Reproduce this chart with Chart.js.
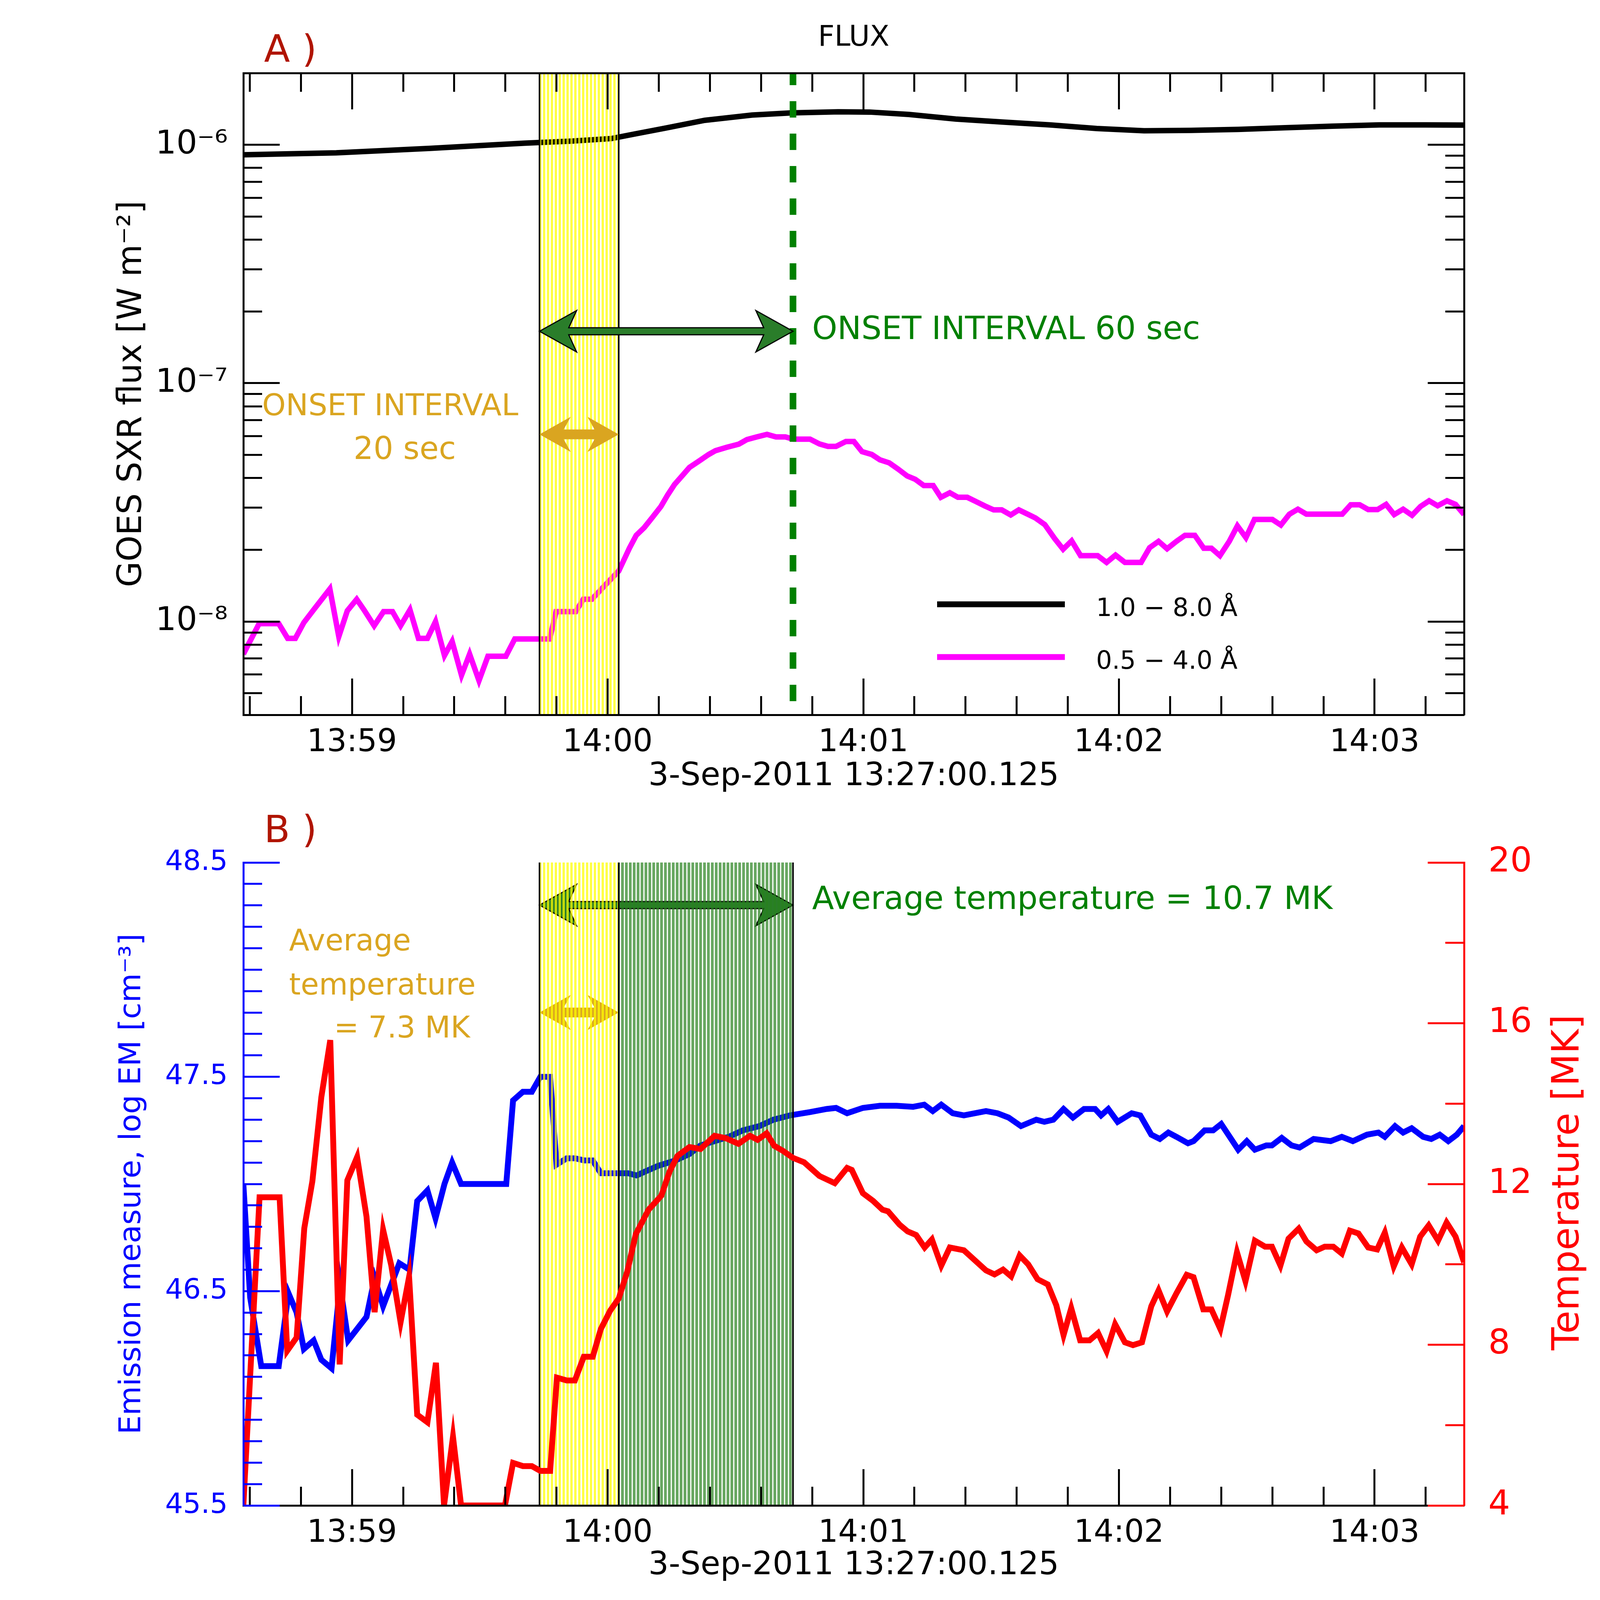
<!DOCTYPE html>
<html>
<head>
<meta charset="utf-8">
<script src="https://cdn.jsdelivr.net/npm/chart.js@4.4.0/dist/chart.umd.min.js"></script>
<style>
  html, body { margin: 0; padding: 0; background: #fff; }
  #wrap { position: relative; width: 4167px; height: 4167px; background: #fff; }
  canvas { position: absolute; left: 0; }
  #fluxChart { top: 0; width: 4167px; height: 2080px; }
  #emChart { top: 2080px; width: 4167px; height: 2087px; }
</style>
</head>
<body>
<div id="wrap">
  <canvas id="fluxChart" width="4167" height="2080"></canvas>
  <canvas id="emChart" width="4167" height="2087"></canvas>
</div>
<script>
// time axis: seconds from 14:00:00 UT
const timeMin = -85.5, timeMax = 201;
const timeMajorTicks = [-60, 0, 60, 120, 180];
const timeTickLabels = ['13:59', '14:00', '14:01', '14:02', '14:03'];
const timeMinorTicks = [-84, -72, -48, -36, -24, -12, 12, 24, 36, 48, 72, 84, 96, 108, 132, 144, 156, 168, 192];
const timeAxisTitle = '3-Sep-2011 13:27:00.125';

const fluxMin = 4.06e-9, fluxMax = 2.0e-6;
const fluxMajorTicks = [1e-8, 1e-7, 1e-6];
const fluxTickLabels = ['10⁻⁸', '10⁻⁷', '10⁻⁶'];
const fluxMinorTicks = [5e-9, 6e-9, 7e-9, 8e-9, 9e-9, 2e-8, 3e-8, 4e-8, 5e-8, 6e-8, 7e-8, 8e-8, 9e-8,
  2e-7, 3e-7, 4e-7, 5e-7, 6e-7, 7e-7, 8e-7, 9e-7, 2e-6];

const emMajorTicks = [45.5, 46.5, 47.5, 48.5];
const emTickLabels = ['45.5', '46.5', '47.5', '48.5'];
const emMinorTicks = [45.6, 45.7, 45.8, 45.9, 46.0, 46.1, 46.2, 46.3, 46.4, 46.6, 46.7, 46.8, 46.9,
  47.0, 47.1, 47.2, 47.3, 47.4, 47.6, 47.7, 47.8, 47.9, 48.0, 48.1, 48.2, 48.3, 48.4];
const tempMajorTicks = [4, 8, 12, 16, 20];
const tempTickLabels = ['4', '8', '12', '16', '20'];
const tempMinorTicks = [6, 10, 14, 18];

// onset intervals (s from 14:00:00)
const onsetStart = -16, onset20End = 2.6, onset60End = 43.5;

// GOES 1.0-8.0 A
const longTime = [-85.7, -74.7, -63.7, -52.6, -41.6, -30.5, -19.5, -8.5, 0.8, 6.3, 13.6, 22.8, 33.9, 43.1,
  54.1, 61.5, 70.7, 81.7, 92.8, 103.8, 114.8, 125.9, 136.9, 148.0, 159.0, 170.1, 181.1, 192.1, 201.0];
const longFlux = [9.08e-7, 9.17e-7, 9.25e-7, 9.46e-7, 9.66e-7, 9.91e-7, 1.016e-6, 1.036e-6, 1.062e-6, 1.110e-6,
  1.175e-6, 1.267e-6, 1.333e-6, 1.361e-6, 1.375e-6, 1.372e-6, 1.341e-6, 1.283e-6, 1.246e-6, 1.212e-6,
  1.170e-6, 1.145e-6, 1.150e-6, 1.160e-6, 1.179e-6, 1.197e-6, 1.212e-6, 1.212e-6, 1.21e-6];

// GOES 0.5-4.0 A
const shortTime = [-85.5, -81.8, -77.2, -75.1, -73.3, -71.3, -69.0, -65.2, -63.1, -61.1, -58.9, -57.2, -54.8,
  -52.6, -50.5, -48.6, -46.4, -44.4, -42.3, -40.4, -38.3, -36.5, -34.3, -32.4, -30.2, -28.1, -23.9, -21.8,
  -13.6, -12.1, -7.5, -5.7, -3.7, -1.1, 2.6, 3.8, 5.1, 6.7, 8.6, 10.6, 12.5, 14.1, 15.7, 17.6, 19.2, 21.5,
  23.7, 25.3, 27.9, 30.8, 32.7, 35.0, 37.4, 39.5, 41.7, 43.6, 47.5, 49.7, 51.7, 53.6, 55.9, 57.8, 59.7,
  62.0, 63.9, 66.1, 68.1, 70.3, 72.2, 74.2, 76.4, 78.2, 80.3, 82.2, 84.4, 86.4, 88.6, 90.6, 92.5, 94.6,
  96.5, 98.6, 100.4, 102.6, 104.9, 106.9, 108.9, 111.0, 115.0, 117.1, 119.2, 121.4, 125.2, 127.2, 129.3,
  131.3, 133.5, 135.5, 137.8, 139.9, 141.7, 143.7, 145.9, 147.8, 149.8, 151.8, 156.0, 158.0, 160.0, 162.0,
  164.0, 172.4, 174.4, 176.5, 178.5, 180.7, 182.7, 184.6, 186.7, 188.8, 190.8, 192.8, 194.8, 197.0, 199.0, 201.0];
const shortFlux = [7.3e-9, 9.8e-9, 9.8e-9, 8.5e-9, 8.5e-9, 9.9e-9, 1.12e-8, 1.37e-8, 8.65e-9, 1.11e-8, 1.24e-8,
  1.12e-8, 9.6e-9, 1.10e-8, 1.10e-8, 9.6e-9, 1.12e-8, 8.5e-9, 8.5e-9, 1.0e-8, 7.2e-9, 8.25e-9, 5.95e-9,
  7.3e-9, 5.65e-9, 7.15e-9, 7.15e-9, 8.45e-9, 8.45e-9, 1.10e-8, 1.10e-8, 1.24e-8, 1.24e-8, 1.39e-8,
  1.63e-8, 1.81e-8, 2.03e-8, 2.30e-8, 2.48e-8, 2.75e-8, 3.04e-8, 3.40e-8, 3.76e-8, 4.11e-8, 4.43e-8,
  4.72e-8, 5.02e-8, 5.21e-8, 5.38e-8, 5.55e-8, 5.80e-8, 5.95e-8, 6.10e-8, 5.95e-8, 5.95e-8, 5.82e-8,
  5.82e-8, 5.56e-8, 5.43e-8, 5.43e-8, 5.69e-8, 5.69e-8, 5.16e-8, 5.02e-8, 4.77e-8, 4.63e-8, 4.37e-8,
  4.08e-8, 3.95e-8, 3.72e-8, 3.72e-8, 3.32e-8, 3.47e-8, 3.32e-8, 3.32e-8, 3.19e-8, 3.05e-8, 2.94e-8,
  2.94e-8, 2.80e-8, 2.94e-8, 2.82e-8, 2.72e-8, 2.55e-8, 2.23e-8, 2.01e-8, 2.18e-8, 1.89e-8, 1.89e-8,
  1.77e-8, 1.90e-8, 1.77e-8, 1.77e-8, 2.04e-8, 2.17e-8, 2.02e-8, 2.17e-8, 2.30e-8, 2.30e-8, 2.03e-8,
  2.03e-8, 1.89e-8, 2.17e-8, 2.52e-8, 2.25e-8, 2.68e-8, 2.68e-8, 2.54e-8, 2.82e-8, 2.96e-8, 2.82e-8,
  2.82e-8, 3.09e-8, 3.09e-8, 2.95e-8, 2.95e-8, 3.10e-8, 2.81e-8, 2.96e-8, 2.79e-8, 3.04e-8, 3.21e-8,
  3.06e-8, 3.21e-8, 3.10e-8, 2.81e-8];

// emission measure, log EM [cm^-3]
const emTime = [-85.5, -83.9, -81.3, -77.2, -74.9, -73.0, -71.3, -69.0, -67.2, -64.8, -62.8, -60.9, -56.6,
  -54.7, -52.7, -48.9, -46.5, -44.7, -42.3, -40.4, -38.3, -36.5, -34.4, -23.8, -22.2, -19.9, -17.8, -15.8,
  -13.5, -12.0, -9.6, -7.7, -5.5, -3.5, -1.6, 2.3, 4.8, 6.8, 9.0, 11.9, 15.9, 19.2, 21.8, 25.1, 28.4, 31.7,
  35.6, 38.9, 42.8, 47.4, 51.4, 53.6, 56.2, 59.9, 63.9, 67.8, 71.7, 74.3, 76.3, 78.3, 81.0, 83.6, 88.8,
  91.5, 94.1, 97.0, 100.6, 102.5, 104.6, 107.0, 109.2, 111.8, 114.4, 115.8, 117.5, 119.7, 123.0, 125.0,
  127.6, 129.6, 131.6, 133.5, 136.2, 137.5, 140.1, 142.1, 144.0, 148.0, 150.0, 151.9, 154.6, 155.9, 158.2,
  160.5, 162.4, 165.7, 169.7, 172.3, 174.9, 178.2, 180.9, 182.4, 184.8, 186.7, 188.7, 191.4, 193.3, 195.3,
  197.3, 199.3, 201.0];
const emValue = [47.0, 46.47, 46.15, 46.15, 46.49, 46.40, 46.23, 46.27, 46.18, 46.14, 46.53, 46.27, 46.38,
  46.56, 46.43, 46.63, 46.60, 46.92, 46.97, 46.84, 47.00, 47.10, 47.00, 47.00, 47.39, 47.43, 47.43, 47.50,
  47.50, 47.09, 47.12, 47.12, 47.11, 47.11, 47.05, 47.05, 47.05, 47.04, 47.06, 47.085, 47.11, 47.14, 47.18,
  47.20, 47.22, 47.25, 47.27, 47.30, 47.32, 47.335, 47.35, 47.355, 47.33, 47.355, 47.365, 47.365, 47.36,
  47.37, 47.34, 47.37, 47.33, 47.32, 47.34, 47.33, 47.31, 47.27, 47.30, 47.29, 47.30, 47.35, 47.31, 47.35,
  47.35, 47.32, 47.35, 47.29, 47.33, 47.32, 47.23, 47.21, 47.24, 47.22, 47.19, 47.20, 47.25, 47.25, 47.28,
  47.16, 47.20, 47.16, 47.18, 47.18, 47.215, 47.18, 47.17, 47.21, 47.20, 47.22, 47.20, 47.23, 47.24, 47.22,
  47.27, 47.24, 47.26, 47.22, 47.21, 47.23, 47.20, 47.23, 47.27];

// temperature [MK]
const tempTime = [-85.5, -81.7, -77.0, -75.2, -73.0, -71.2, -69.3, -67.2, -65.1, -62.9, -61.1, -58.8, -56.6,
  -54.7, -52.7, -50.8, -48.6, -46.6, -44.7, -42.3, -40.3, -38.4, -36.3, -34.4, -24.1, -22.2, -19.9, -17.8,
  -15.8, -13.5, -11.9, -9.6, -7.7, -5.6, -3.5, -1.6, 0.6, 2.6, 4.6, 6.6, 9.6, 12.6, 14.5, 16.4, 19.2, 21.8,
  25.1, 27.7, 30.7, 33.4, 35.2, 37.3, 39.1, 41.2, 43.5, 46.1, 49.7, 53.3, 56.2, 57.3, 59.9, 62.3, 64.5, 65.8,
  68.5, 70.4, 72.4, 74.4, 76.1, 78.3, 80.3, 83.6, 86.2, 88.8, 90.8, 92.8, 94.7, 96.7, 98.7, 100.9, 103.3,
  105.3, 107.0, 108.8, 110.9, 113.1, 115.1, 117.1, 119.1, 121.4, 123.3, 125.4, 127.6, 129.3, 131.3, 133.5,
  135.9, 137.5, 139.8, 141.7, 143.8, 145.6, 147.7, 149.7, 151.9, 154.3, 155.9, 157.9, 159.8, 162.2, 164.0,
  166.4, 168.3, 170.3, 172.3, 174.2, 176.2, 178.5, 180.6, 182.4, 184.5, 186.4, 188.7, 190.7, 192.7, 194.9,
  196.9, 199.0, 201.0];
const tempValue = [4.0, 11.67, 11.67, 7.85, 8.18, 10.90, 12.07, 14.16, 15.58, 7.51, 12.09, 12.67, 11.19, 8.81,
  10.86, 9.98, 8.56, 9.69, 6.26, 6.07, 7.55, 4.0, 5.71, 4.0, 4.0, 5.06, 4.98, 4.98, 4.86, 4.86, 7.18, 7.11,
  7.11, 7.70, 7.70, 8.39, 8.85, 9.15, 9.82, 10.75, 11.36, 11.71, 12.30, 12.70, 12.92, 12.87, 13.20, 13.14,
  13.00, 13.20, 13.10, 13.26, 12.95, 12.82, 12.65, 12.54, 12.20, 12.02, 12.40, 12.35, 11.77, 11.58, 11.36,
  11.32, 10.99, 10.82, 10.73, 10.42, 10.62, 9.97, 10.42, 10.35, 10.10, 9.85, 9.75, 9.87, 9.70, 10.22, 10.00,
  9.63, 9.50, 8.98, 8.24, 8.91, 8.11, 8.11, 8.29, 7.84, 8.51, 8.06, 7.99, 8.06, 8.96, 9.35, 8.83, 9.28, 9.74,
  9.68, 8.88, 8.88, 8.39, 9.23, 10.30, 9.58, 10.59, 10.44, 10.44, 9.97, 10.64, 10.89, 10.57, 10.35, 10.44,
  10.44, 10.27, 10.84, 10.77, 10.42, 10.37, 10.79, 9.95, 10.42, 10.00, 10.69, 10.97, 10.59, 11.04, 10.69, 10.05];

const FONT = 'DejaVu Sans';
const GOLD = '#daa520';
const GREEN = '#008000';
const PANEL_RED = '#b01400';

const pairs = (xs, ys) => xs.map((x, i) => ({ x, y: ys[i] }));

const isHoriz = pos => pos === 'top' || pos === 'bottom';

// axis that carries the labels, the title and the frame line
function labelAxis(o) {
  const ax = {
    type: o.type || 'linear',
    position: o.position,
    min: o.min,
    max: o.max,
    bounds: 'data',
    weight: 1,
    afterBuildTicks: s => { s.ticks = o.values.map(v => ({ value: v })); },
    afterFit: s => { if (isHoriz(o.position)) s.height = o.size; else s.width = o.size; },
    grid: { display: false, drawTicks: false },
    border: { display: true, color: o.color, width: 5, z: 1 },
    ticks: { display: false, z: 1 },
    title: { display: false }
  };
  if (o.labels) {
    ax.ticks = {
      display: true, autoSkip: false, maxRotation: 0, minRotation: 0, padding: o.tickPad, z: 1,
      color: o.color, font: { family: FONT, size: o.tickSize },
      callback: (v, i) => o.labels[i]
    };
  }
  if (o.title) {
    ax.title = {
      display: true, text: o.title, color: o.color, font: { family: FONT, size: o.titleSize },
      padding: { top: o.titlePad, bottom: o.titlePad }
    };
  }
  return ax;
}

// zero-size axis that only draws tick marks pointing into the plot (IDL style)
function tickAxis(o) {
  return {
    type: o.type || 'linear',
    position: o.position,
    min: o.min,
    max: o.max,
    bounds: 'data',
    weight: 0,
    afterBuildTicks: s => { s.ticks = o.values.map(v => ({ value: v })); },
    afterFit: s => { if (isHoriz(o.position)) s.height = 0; else s.width = 0; },
    grid: { display: true, drawOnChartArea: false, drawTicks: true, tickLength: -o.len, color: o.color, lineWidth: 5, z: 1 },
    border: { display: false },
    ticks: { display: false },
    title: { display: false }
  };
}

function stripes(color, on, period) {
  const c = document.createElement('canvas');
  c.width = period; c.height = 4;
  const g = c.getContext('2d');
  g.fillStyle = color;
  g.fillRect(0, 0, on, 4);
  return c;
}
const yellowStripes = stripes('rgba(255,255,0,0.72)', 6, 10);
const greenStripes = stripes('rgba(40,130,30,0.7)', 7, 10);

function shadeBand(ctx, area, x0, x1, tile) {
  ctx.fillStyle = ctx.createPattern(tile, 'repeat');
  ctx.fillRect(x0, area.top, x1 - x0, area.bottom - area.top);
}

function edge(ctx, area, x) {
  ctx.beginPath();
  ctx.strokeStyle = '#000';
  ctx.lineWidth = 4;
  ctx.moveTo(x, area.top);
  ctx.lineTo(x, area.bottom);
  ctx.stroke();
}

function drawArrow(ctx, x1, x2, y, a) {
  const { hl, hh, sh, n } = a;
  ctx.beginPath();
  ctx.moveTo(x1, y);
  ctx.lineTo(x1 + hl, y - hh);
  ctx.lineTo(x1 + hl - n, y - sh);
  ctx.lineTo(x2 - hl + n, y - sh);
  ctx.lineTo(x2 - hl, y - hh);
  ctx.lineTo(x2, y);
  ctx.lineTo(x2 - hl, y + hh);
  ctx.lineTo(x2 - hl + n, y + sh);
  ctx.lineTo(x1 + hl - n, y + sh);
  ctx.lineTo(x1 + hl, y + hh);
  ctx.closePath();
  ctx.fillStyle = a.fill;
  ctx.fill();
  if (a.stroke) {
    ctx.lineWidth = a.strokeWidth;
    ctx.strokeStyle = a.stroke;
    ctx.stroke();
  }
}
const goldArrow = { hl: 80, hh: 45, sh: 12.5, n: 18, fill: GOLD };
const greenArrow = { hl: 95, hh: 53, sh: 9, n: 20, fill: '#2a7d2a', stroke: '#000', strokeWidth: 3 };

function label(ctx, str, x, y, size, color, align) {
  ctx.font = size + 'px "' + FONT + '"';
  ctx.fillStyle = color;
  ctx.textAlign = align || 'left';
  ctx.textBaseline = 'alphabetic';
  ctx.fillText(str, x, y);
}

const fluxDecor = {
  id: 'fluxDecor',
  afterDatasetsDraw(chart) {
    const { ctx, chartArea: area, scales } = chart;
    const px = t => scales.x.getPixelForValue(t);
    const xa = px(onsetStart), xb = px(onset20End), xc = px(onset60End);
    ctx.save();
    shadeBand(ctx, area, xa, xb, yellowStripes);
    edge(ctx, area, xa);
    edge(ctx, area, xb);

    ctx.beginPath();
    ctx.setLineDash([42, 41]);
    ctx.lineDashOffset = 11;
    ctx.strokeStyle = GREEN;
    ctx.lineWidth = 17;
    ctx.moveTo(xc, area.top);
    ctx.lineTo(xc, area.bottom);
    ctx.stroke();
    ctx.setLineDash([]);

    drawArrow(ctx, xa, xc, 848, greenArrow);
    drawArrow(ctx, xa, xb, 1112, goldArrow);

    label(ctx, 'ONSET INTERVAL 60 sec', xc + 49, 868, 82, GREEN);
    label(ctx, 'ONSET INTERVAL', 671, 1063, 77, GOLD);
    label(ctx, '20 sec', 905, 1175, 80, GOLD);
    label(ctx, 'A )', 676, 158, 97, PANEL_RED);
    label(ctx, 'FLUX', (area.left + area.right) / 2, 117, 73, '#000', 'center');

    chart.data.datasets.forEach((ds, i) => {
      const ly = 1547 + i * 135;
      ctx.beginPath();
      ctx.strokeStyle = ds.borderColor;
      ctx.lineWidth = 15;
      ctx.moveTo(2399, ly);
      ctx.lineTo(2726, ly);
      ctx.stroke();
      label(ctx, ds.label, 2806, ly + 30, 64, '#000');
    });
    ctx.restore();
  }
};

const emDecor = {
  id: 'emDecor',
  beforeDatasetDraw(chart, args) {
    // bands go over the EM curve but under the temperature curve
    if (chart.data.datasets[args.index].yAxisID !== 'yT') return;
    const { ctx, chartArea: area, scales } = chart;
    const px = t => scales.x.getPixelForValue(t);
    const xa = px(onsetStart), xb = px(onset20End), xc = px(onset60End);
    ctx.save();
    drawArrow(ctx, xa, xc, 237, greenArrow);
    drawArrow(ctx, xa, xb, 512, goldArrow);
    shadeBand(ctx, area, xa, xb, yellowStripes);
    shadeBand(ctx, area, xb, xc, greenStripes);
    edge(ctx, area, xa);
    edge(ctx, area, xb);
    edge(ctx, area, xc);
    ctx.restore();
  },
  afterDatasetsDraw(chart) {
    const { ctx, scales } = chart;
    const xc = scales.x.getPixelForValue(onset60End);
    ctx.save();
    label(ctx, 'B )', 676, 76, 97, PANEL_RED);
    label(ctx, 'Average temperature = 10.7 MK', xc + 49, 247, 82, GREEN);
    label(ctx, 'Average', 740, 353, 76, GOLD);
    label(ctx, 'temperature', 740, 466, 76, GOLD);
    label(ctx, '= 7.3 MK', 855, 576, 76, GOLD);
    ctx.translate(4016, 947);
    ctx.rotate(-Math.PI / 2);
    ctx.font = '96px "' + FONT + '"';
    ctx.fillStyle = '#ff0000';
    ctx.textAlign = 'center';
    ctx.textBaseline = 'middle';
    ctx.fillText('Temperature [MK]', 0, 0);
    ctx.restore();
  }
};

const baseOptions = {
  responsive: false,
  animation: false,
  devicePixelRatio: 1,
  elements: { point: { radius: 0 }, line: { tension: 0 } },
  plugins: { legend: { display: false }, tooltip: { enabled: false } }
};

const T = { min: timeMin, max: timeMax };
const F = { type: 'logarithmic', min: fluxMin, max: fluxMax };
const EM = { min: 45.5, max: 48.5 };
const TMP = { min: 4, max: 20 };

new Chart(document.getElementById('fluxChart'), {
  type: 'line',
  data: {
    datasets: [
      { label: '1.0 − 8.0 Å', data: pairs(longTime, longFlux), borderColor: '#000000', borderWidth: 14 },
      { label: '0.5 − 4.0 Å', data: pairs(shortTime, shortFlux), borderColor: '#ff00ff', borderWidth: 14 }
    ]
  },
  options: Object.assign({}, baseOptions, {
    layout: { padding: 0 },
    scales: {
      x: labelAxis({ ...T, position: 'bottom', values: timeMajorTicks, labels: timeTickLabels, color: '#000',
        size: 250, tickSize: 80, tickPad: 24, title: timeAxisTitle, titleSize: 82, titlePad: 42 }),
      xMajor: tickAxis({ ...T, position: 'bottom', values: timeMajorTicks, len: 93, color: '#000' }),
      xMinor: tickAxis({ ...T, position: 'bottom', values: timeMinorTicks, len: 48, color: '#000' }),
      xTop: labelAxis({ ...T, position: 'top', values: timeMajorTicks, color: '#000', size: 187 }),
      xTopMajor: tickAxis({ ...T, position: 'top', values: timeMajorTicks, len: 93, color: '#000' }),
      xTopMinor: tickAxis({ ...T, position: 'top', values: timeMinorTicks, len: 48, color: '#000' }),
      y: labelAxis({ ...F, position: 'left', values: fluxMajorTicks, labels: fluxTickLabels, color: '#000',
        size: 623, tickSize: 84, tickPad: 40, title: 'GOES SXR flux [W m⁻²]', titleSize: 85, titlePad: 288 }),
      yMajor: tickAxis({ ...F, position: 'left', values: fluxMajorTicks, len: 93, color: '#000' }),
      yMinor: tickAxis({ ...F, position: 'left', values: fluxMinorTicks, len: 48, color: '#000' }),
      yRight: labelAxis({ ...F, position: 'right', values: fluxMajorTicks, color: '#000', size: 419 }),
      yRightMajor: tickAxis({ ...F, position: 'right', values: fluxMajorTicks, len: 93, color: '#000' }),
      yRightMinor: tickAxis({ ...F, position: 'right', values: fluxMinorTicks, len: 48, color: '#000' })
    }
  }),
  plugins: [fluxDecor]
});

new Chart(document.getElementById('emChart'), {
  type: 'line',
  data: {
    datasets: [
      { label: 'log EM', data: pairs(emTime, emValue), borderColor: '#0000ff', borderWidth: 15, yAxisID: 'y', order: 1 },
      { label: 'Temperature', data: pairs(tempTime, tempValue), borderColor: '#ff0000', borderWidth: 15, yAxisID: 'yT', order: 0 }
    ]
  },
  options: Object.assign({}, baseOptions, {
    layout: { padding: { top: 128 } },
    scales: {
      x: labelAxis({ ...T, position: 'bottom', values: timeMajorTicks, labels: timeTickLabels, color: '#000',
        size: 313, tickSize: 80, tickPad: 24, title: timeAxisTitle, titleSize: 82, titlePad: 109 }),
      xMajor: tickAxis({ ...T, position: 'bottom', values: timeMajorTicks, len: 93, color: '#000' }),
      xMinor: tickAxis({ ...T, position: 'bottom', values: timeMinorTicks, len: 48, color: '#000' }),
      y: labelAxis({ ...EM, position: 'left', values: emMajorTicks, labels: emTickLabels, color: '#0000ff',
        size: 623, tickSize: 72, tickPad: 40, title: 'Emission measure, log EM [cm⁻³]', titleSize: 77, titlePad: 293 }),
      yMajor: tickAxis({ ...EM, position: 'left', values: emMajorTicks, len: 93, color: '#0000ff' }),
      yMinor: tickAxis({ ...EM, position: 'left', values: emMinorTicks, len: 48, color: '#0000ff' }),
      yT: labelAxis({ ...TMP, position: 'right', values: tempMajorTicks, labels: tempTickLabels, color: '#ff0000',
        size: 419, tickSize: 88, tickPad: 62 }),
      yTMajor: tickAxis({ ...TMP, position: 'right', values: tempMajorTicks, len: 93, color: '#ff0000' }),
      yTMinor: tickAxis({ ...TMP, position: 'right', values: tempMinorTicks, len: 48, color: '#ff0000' })
    }
  }),
  plugins: [emDecor]
});
</script>
</body>
</html>
